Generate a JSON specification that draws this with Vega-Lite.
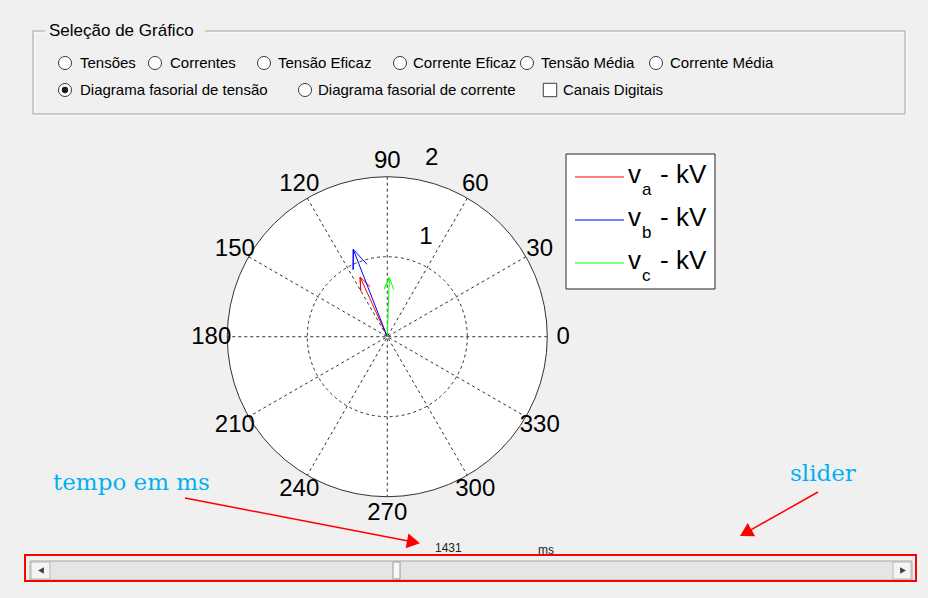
{
  "$schema": "https://vega.github.io/schema/vega-lite/v6.json",
  "width": 928,
  "height": 598,
  "autosize": {"type": "fit", "contains": "padding"},
  "padding": 0,
  "background": "#f0f0f0",
  "config": {"view": {"stroke": null}, "axis": {"disable": true}},
  "datasets": {
    "frame": [{"x": 33, "y": 31, "x2": 905, "y2": 114}],
    "frameHi": [{"x": 34, "y": 32, "x2": 906, "y2": 115}],
    "titleBg": [{"x": 45, "y": 22, "x2": 205, "y2": 40}],
    "title": [{"x": 49, "y": 31, "t": "Seleção de Gráfico"}],
    "options": [
      {"t": "Tensões", "cx": 65, "tx": 80, "y": 63, "k": "radio"},
      {"t": "Correntes", "cx": 155, "tx": 170, "y": 63, "k": "radio"},
      {"t": "Tensão Eficaz", "cx": 264, "tx": 278, "y": 63, "k": "radio"},
      {"t": "Corrente Eficaz", "cx": 400, "tx": 413, "y": 63, "k": "radio"},
      {"t": "Tensão Média", "cx": 527, "tx": 541, "y": 63, "k": "radio"},
      {"t": "Corrente Média", "cx": 656, "tx": 670, "y": 63, "k": "radio"},
      {"t": "Diagrama fasorial de tensão", "cx": 65, "tx": 80, "y": 90, "k": "selected"},
      {"t": "Diagrama fasorial de corrente", "cx": 305, "tx": 318, "y": 90, "k": "radio"},
      {"t": "Canais Digitais", "cx": 550, "tx": 563, "y": 90, "k": "check"}
    ],
    "spokes": [
      {"x": 2, "y": 0, "x2": -2, "y2": 0},
      {"x": 1.7321, "y": 1, "x2": -1.7321, "y2": -1},
      {"x": 1, "y": 1.7321, "x2": -1, "y2": -1.7321},
      {"x": 0, "y": 2, "x2": 0, "y2": -2},
      {"x": -1, "y": 1.7321, "x2": 1, "y2": -1.7321},
      {"x": -1.7321, "y": 1, "x2": 1.7321, "y2": -1}
    ],
    "origin": [{"x": 0, "y": 0}],
    "angles": [
      {"t": "0", "x": 2.2, "y": 0},
      {"t": "30", "x": 1.9053, "y": 1.1},
      {"t": "60", "x": 1.1, "y": 1.9053},
      {"t": "90", "x": 0, "y": 2.2},
      {"t": "120", "x": -1.1, "y": 1.9053},
      {"t": "150", "x": -1.9053, "y": 1.1},
      {"t": "180", "x": -2.2, "y": 0},
      {"t": "210", "x": -1.9053, "y": -1.1},
      {"t": "240", "x": -1.1, "y": -1.9053},
      {"t": "270", "x": 0, "y": -2.2},
      {"t": "300", "x": 1.1, "y": -1.9053},
      {"t": "330", "x": 1.9053, "y": -1.1}
    ],
    "rlabels": [
      {"t": "1", "x": 0.484, "y": 1.246},
      {"t": "2", "x": 0.555, "y": 2.234}
    ],
    "phasors": [
      {"s": "va", "i": 0, "x": 0, "y": 0},
      {"s": "va", "i": 1, "x": -0.34, "y": 0.746},
      {"s": "va", "i": 2, "x": -0.332, "y": 0.57},
      {"s": "va", "i": 3, "x": -0.34, "y": 0.746},
      {"s": "va", "i": 4, "x": -0.212, "y": 0.624},
      {"s": "vb", "i": 0, "x": 0, "y": 0},
      {"s": "vb", "i": 1, "x": -0.425, "y": 1.09},
      {"s": "vb", "i": 2, "x": -0.427, "y": 0.838},
      {"s": "vb", "i": 3, "x": -0.425, "y": 1.09},
      {"s": "vb", "i": 4, "x": -0.253, "y": 0.906},
      {"s": "vc", "i": 0, "x": 0, "y": 0},
      {"s": "vc", "i": 1, "x": 0.026, "y": 0.74},
      {"s": "vc", "i": 2, "x": -0.039, "y": 0.594},
      {"s": "vc", "i": 3, "x": 0.026, "y": 0.74},
      {"s": "vc", "i": 4, "x": 0.08, "y": 0.59}
    ],
    "legendBox": [{"x": 566, "y": 154, "x2": 715, "y2": 289}],
    "legendRows": [
      {"s": "va", "sub": "a", "x": 575, "x2": 624, "y": 177, "ty": 183, "sy": 195},
      {"s": "vb", "sub": "b", "x": 575, "x2": 624, "y": 220, "ty": 226, "sy": 238},
      {"s": "vc", "sub": "c", "x": 575, "x2": 624, "y": 263, "ty": 269, "sy": 281}
    ],
    "trough": [{"x": 30, "y": 561, "x2": 912, "y2": 580}],
    "buttons": [
      {"x": 31, "y": 562, "x2": 50, "y2": 579},
      {"x": 893, "y": 562, "x2": 911, "y2": 579}
    ],
    "leftTri": [{"x": 41, "y": 570.5}],
    "rightTri": [{"x": 903, "y": 570.5}],
    "thumb": [{"x": 393, "y": 562, "x2": 400, "y2": 579}],
    "redBox": [{"x": 25, "y": 555, "x2": 916, "y2": 581}],
    "smallText": [
      {"t": "1431", "x": 435, "y": 551.5},
      {"t": "ms", "x": 538, "y": 554}
    ],
    "notes": [
      {"t": "tempo em ms", "x": 53, "y": 490},
      {"t": "slider", "x": 790, "y": 481}
    ],
    "arrow1": [{"x": 185, "y": 498, "x2": 413.5, "y2": 542.1}],
    "arrow2": [{"x": 818, "y": 492, "x2": 745.7, "y2": 532.8}]
  },
  "layer": [
    {
      "layer": [
        {
          "data": {"name": "frameHi"},
          "mark": {"type": "rect", "fill": "transparent", "stroke": "#ffffff", "strokeWidth": 1},
          "encoding": {
            "x": {"field": "x", "type": "quantitative", "scale": {"domain": [0, 928], "nice": false, "zero": false}, "axis": null},
            "y": {"field": "y", "type": "quantitative", "scale": {"domain": [0, 598], "nice": false, "zero": false, "reverse": true}, "axis": null},
            "x2": {"field": "x2"},
            "y2": {"field": "y2"}
          }
        },
        {
          "data": {"name": "frame"},
          "mark": {"type": "rect", "fill": "transparent", "stroke": "#a0a0a0", "strokeWidth": 1},
          "encoding": {
            "x": {"field": "x", "type": "quantitative", "scale": {"domain": [0, 928], "nice": false, "zero": false}, "axis": null},
            "y": {"field": "y", "type": "quantitative", "scale": {"domain": [0, 598], "nice": false, "zero": false, "reverse": true}, "axis": null},
            "x2": {"field": "x2"},
            "y2": {"field": "y2"}
          }
        },
        {
          "data": {"name": "titleBg"},
          "mark": {"type": "rect", "fill": "#f0f0f0", "strokeWidth": 0},
          "encoding": {
            "x": {"field": "x", "type": "quantitative", "scale": {"domain": [0, 928], "nice": false, "zero": false}, "axis": null},
            "y": {"field": "y", "type": "quantitative", "scale": {"domain": [0, 598], "nice": false, "zero": false, "reverse": true}, "axis": null},
            "x2": {"field": "x2"},
            "y2": {"field": "y2"}
          }
        },
        {
          "data": {"name": "title"},
          "mark": {"type": "text", "align": "left", "baseline": "middle", "font": "Liberation Sans", "fontSize": 17, "color": "#000000"},
          "encoding": {
            "x": {"field": "x", "type": "quantitative", "scale": {"domain": [0, 928], "nice": false, "zero": false}, "axis": null},
            "y": {"field": "y", "type": "quantitative", "scale": {"domain": [0, 598], "nice": false, "zero": false, "reverse": true}, "axis": null},
            "text": {"field": "t"}
          }
        },
        {
          "data": {"name": "options"},
          "transform": [{"filter": "datum.k !== 'check'"}],
          "mark": {"type": "point", "shape": "circle", "size": 170, "filled": true, "fill": "#ffffff", "stroke": "#3c3c3c", "strokeWidth": 1, "opacity": 1},
          "encoding": {
            "x": {"field": "cx", "type": "quantitative", "scale": {"domain": [0, 928], "nice": false, "zero": false}, "axis": null},
            "y": {"field": "y", "type": "quantitative", "scale": {"domain": [0, 598], "nice": false, "zero": false, "reverse": true}, "axis": null}
          }
        },
        {
          "data": {"name": "options"},
          "transform": [{"filter": "datum.k === 'selected'"}],
          "mark": {"type": "point", "shape": "circle", "size": 40, "filled": true, "fill": "#1a1a1a", "strokeWidth": 0, "opacity": 1},
          "encoding": {
            "x": {"field": "cx", "type": "quantitative", "scale": {"domain": [0, 928], "nice": false, "zero": false}, "axis": null},
            "y": {"field": "y", "type": "quantitative", "scale": {"domain": [0, 598], "nice": false, "zero": false, "reverse": true}, "axis": null}
          }
        },
        {
          "data": {"name": "options"},
          "transform": [{"filter": "datum.k === 'check'"}],
          "mark": {"type": "point", "shape": "square", "size": 180, "filled": true, "fill": "#ffffff", "stroke": "#3c3c3c", "strokeWidth": 1, "opacity": 1},
          "encoding": {
            "x": {"field": "cx", "type": "quantitative", "scale": {"domain": [0, 928], "nice": false, "zero": false}, "axis": null},
            "y": {"field": "y", "type": "quantitative", "scale": {"domain": [0, 598], "nice": false, "zero": false, "reverse": true}, "axis": null}
          }
        },
        {
          "data": {"name": "options"},
          "mark": {"type": "text", "align": "left", "baseline": "middle", "font": "Liberation Sans", "fontSize": 15, "color": "#000000"},
          "encoding": {
            "x": {"field": "tx", "type": "quantitative", "scale": {"domain": [0, 928], "nice": false, "zero": false}, "axis": null},
            "y": {"field": "y", "type": "quantitative", "scale": {"domain": [0, 598], "nice": false, "zero": false, "reverse": true}, "axis": null},
            "text": {"field": "t"}
          }
        },
        {
          "data": {"name": "legendBox"},
          "mark": {"type": "rect", "fill": "#ffffff", "stroke": "#262626", "strokeWidth": 1},
          "encoding": {
            "x": {"field": "x", "type": "quantitative", "scale": {"domain": [0, 928], "nice": false, "zero": false}, "axis": null},
            "y": {"field": "y", "type": "quantitative", "scale": {"domain": [0, 598], "nice": false, "zero": false, "reverse": true}, "axis": null},
            "x2": {"field": "x2"},
            "y2": {"field": "y2"}
          }
        },
        {
          "data": {"name": "legendRows"},
          "mark": {"type": "rule", "strokeWidth": 1},
          "encoding": {
            "x": {"field": "x", "type": "quantitative", "scale": {"domain": [0, 928], "nice": false, "zero": false}, "axis": null},
            "y": {"field": "y", "type": "quantitative", "scale": {"domain": [0, 598], "nice": false, "zero": false, "reverse": true}, "axis": null},
            "x2": {"field": "x2"},
            "color": {"field": "s", "type": "nominal", "scale": {"domain": ["va", "vb", "vc"], "range": ["#ff0000", "#0000ff", "#00ff00"]}, "legend": null}
          }
        },
        {
          "data": {"name": "legendRows"},
          "mark": {"type": "text", "align": "left", "baseline": "alphabetic", "font": "Liberation Sans", "fontSize": 26, "color": "#000000", "text": "v"},
          "encoding": {
            "x": {"datum": 628, "type": "quantitative", "scale": {"domain": [0, 928], "nice": false, "zero": false}, "axis": null},
            "y": {"field": "ty", "type": "quantitative", "scale": {"domain": [0, 598], "nice": false, "zero": false, "reverse": true}, "axis": null}
          }
        },
        {
          "data": {"name": "legendRows"},
          "mark": {"type": "text", "align": "left", "baseline": "alphabetic", "font": "Liberation Sans", "fontSize": 17, "color": "#000000"},
          "encoding": {
            "x": {"datum": 642, "type": "quantitative", "scale": {"domain": [0, 928], "nice": false, "zero": false}, "axis": null},
            "y": {"field": "sy", "type": "quantitative", "scale": {"domain": [0, 598], "nice": false, "zero": false, "reverse": true}, "axis": null},
            "text": {"field": "sub"}
          }
        },
        {
          "data": {"name": "legendRows"},
          "mark": {"type": "text", "align": "left", "baseline": "alphabetic", "font": "Liberation Sans", "fontSize": 26, "color": "#000000", "text": "- kV"},
          "encoding": {
            "x": {"datum": 660, "type": "quantitative", "scale": {"domain": [0, 928], "nice": false, "zero": false}, "axis": null},
            "y": {"field": "ty", "type": "quantitative", "scale": {"domain": [0, 598], "nice": false, "zero": false, "reverse": true}, "axis": null}
          }
        },
        {
          "data": {"name": "trough"},
          "mark": {"type": "rect", "fill": "#e5e5e5", "stroke": "#a8a8a8", "strokeWidth": 1},
          "encoding": {
            "x": {"field": "x", "type": "quantitative", "scale": {"domain": [0, 928], "nice": false, "zero": false}, "axis": null},
            "y": {"field": "y", "type": "quantitative", "scale": {"domain": [0, 598], "nice": false, "zero": false, "reverse": true}, "axis": null},
            "x2": {"field": "x2"},
            "y2": {"field": "y2"}
          }
        },
        {
          "data": {"name": "buttons"},
          "mark": {"type": "rect", "fill": "#f4f4f4", "stroke": "#b8b8b8", "strokeWidth": 1},
          "encoding": {
            "x": {"field": "x", "type": "quantitative", "scale": {"domain": [0, 928], "nice": false, "zero": false}, "axis": null},
            "y": {"field": "y", "type": "quantitative", "scale": {"domain": [0, 598], "nice": false, "zero": false, "reverse": true}, "axis": null},
            "x2": {"field": "x2"},
            "y2": {"field": "y2"}
          }
        },
        {
          "data": {"name": "leftTri"},
          "mark": {"type": "point", "shape": "triangle-left", "size": 45, "filled": true, "fill": "#404040", "strokeWidth": 0, "opacity": 1},
          "encoding": {
            "x": {"field": "x", "type": "quantitative", "scale": {"domain": [0, 928], "nice": false, "zero": false}, "axis": null},
            "y": {"field": "y", "type": "quantitative", "scale": {"domain": [0, 598], "nice": false, "zero": false, "reverse": true}, "axis": null}
          }
        },
        {
          "data": {"name": "rightTri"},
          "mark": {"type": "point", "shape": "triangle-right", "size": 45, "filled": true, "fill": "#404040", "strokeWidth": 0, "opacity": 1},
          "encoding": {
            "x": {"field": "x", "type": "quantitative", "scale": {"domain": [0, 928], "nice": false, "zero": false}, "axis": null},
            "y": {"field": "y", "type": "quantitative", "scale": {"domain": [0, 598], "nice": false, "zero": false, "reverse": true}, "axis": null}
          }
        },
        {
          "data": {"name": "thumb"},
          "mark": {"type": "rect", "fill": "#f8f8f8", "stroke": "#9a9a9a", "strokeWidth": 1},
          "encoding": {
            "x": {"field": "x", "type": "quantitative", "scale": {"domain": [0, 928], "nice": false, "zero": false}, "axis": null},
            "y": {"field": "y", "type": "quantitative", "scale": {"domain": [0, 598], "nice": false, "zero": false, "reverse": true}, "axis": null},
            "x2": {"field": "x2"},
            "y2": {"field": "y2"}
          }
        },
        {
          "data": {"name": "redBox"},
          "mark": {"type": "rect", "fill": "transparent", "stroke": "#ff0000", "strokeWidth": 2},
          "encoding": {
            "x": {"field": "x", "type": "quantitative", "scale": {"domain": [0, 928], "nice": false, "zero": false}, "axis": null},
            "y": {"field": "y", "type": "quantitative", "scale": {"domain": [0, 598], "nice": false, "zero": false, "reverse": true}, "axis": null},
            "x2": {"field": "x2"},
            "y2": {"field": "y2"}
          }
        },
        {
          "data": {"name": "smallText"},
          "mark": {"type": "text", "align": "left", "baseline": "alphabetic", "font": "Liberation Sans", "fontSize": 12, "color": "#222222"},
          "encoding": {
            "x": {"field": "x", "type": "quantitative", "scale": {"domain": [0, 928], "nice": false, "zero": false}, "axis": null},
            "y": {"field": "y", "type": "quantitative", "scale": {"domain": [0, 598], "nice": false, "zero": false, "reverse": true}, "axis": null},
            "text": {"field": "t"}
          }
        },
        {
          "data": {"name": "notes"},
          "mark": {"type": "text", "align": "left", "baseline": "alphabetic", "font": "DejaVu Serif", "fontSize": 23, "color": "#00b0f0"},
          "encoding": {
            "x": {"field": "x", "type": "quantitative", "scale": {"domain": [0, 928], "nice": false, "zero": false}, "axis": null},
            "y": {"field": "y", "type": "quantitative", "scale": {"domain": [0, 598], "nice": false, "zero": false, "reverse": true}, "axis": null},
            "text": {"field": "t"}
          }
        },
        {
          "data": {"name": "arrow1"},
          "mark": {"type": "rule", "color": "#ff0000", "strokeWidth": 1.5},
          "encoding": {
            "x": {"field": "x", "type": "quantitative", "scale": {"domain": [0, 928], "nice": false, "zero": false}, "axis": null},
            "y": {"field": "y", "type": "quantitative", "scale": {"domain": [0, 598], "nice": false, "zero": false, "reverse": true}, "axis": null},
            "x2": {"field": "x2"},
            "y2": {"field": "y2"}
          }
        },
        {
          "data": {"name": "arrow1"},
          "mark": {"type": "point", "shape": "triangle-right", "size": 230, "angle": 10.8, "filled": true, "fill": "#ff0000", "strokeWidth": 0, "opacity": 1},
          "encoding": {
            "x": {"field": "x2", "type": "quantitative", "scale": {"domain": [0, 928], "nice": false, "zero": false}, "axis": null},
            "y": {"field": "y2", "type": "quantitative", "scale": {"domain": [0, 598], "nice": false, "zero": false, "reverse": true}, "axis": null}
          }
        },
        {
          "data": {"name": "arrow2"},
          "mark": {"type": "rule", "color": "#ff0000", "strokeWidth": 1.5},
          "encoding": {
            "x": {"field": "x", "type": "quantitative", "scale": {"domain": [0, 928], "nice": false, "zero": false}, "axis": null},
            "y": {"field": "y", "type": "quantitative", "scale": {"domain": [0, 598], "nice": false, "zero": false, "reverse": true}, "axis": null},
            "x2": {"field": "x2"},
            "y2": {"field": "y2"}
          }
        },
        {
          "data": {"name": "arrow2"},
          "mark": {"type": "point", "shape": "triangle-right", "size": 230, "angle": 150.6, "filled": true, "fill": "#ff0000", "strokeWidth": 0, "opacity": 1},
          "encoding": {
            "x": {"field": "x2", "type": "quantitative", "scale": {"domain": [0, 928], "nice": false, "zero": false}, "axis": null},
            "y": {"field": "y2", "type": "quantitative", "scale": {"domain": [0, 598], "nice": false, "zero": false, "reverse": true}, "axis": null}
          }
        }
      ]
    },
    {
      "layer": [
        {
          "data": {"name": "origin"},
          "mark": {"type": "point", "shape": "circle", "size": 102400, "filled": true, "fill": "#ffffff", "stroke": "#333333", "strokeWidth": 1, "opacity": 1},
          "encoding": {
            "x": {"field": "x", "type": "quantitative", "scale": {"domain": [-4.841, 6.759], "nice": false, "zero": false}, "axis": null},
            "y": {"field": "y", "type": "quantitative", "scale": {"domain": [-3.266, 4.209], "nice": false, "zero": false}, "axis": null}
          }
        },
        {
          "data": {"name": "origin"},
          "mark": {"type": "point", "shape": "circle", "size": 25600, "filled": false, "stroke": "#333333", "strokeWidth": 1, "strokeDash": [3, 3], "opacity": 1},
          "encoding": {
            "x": {"field": "x", "type": "quantitative", "scale": {"domain": [-4.841, 6.759], "nice": false, "zero": false}, "axis": null},
            "y": {"field": "y", "type": "quantitative", "scale": {"domain": [-3.266, 4.209], "nice": false, "zero": false}, "axis": null}
          }
        },
        {
          "data": {"name": "spokes"},
          "mark": {"type": "rule", "color": "#333333", "strokeWidth": 1, "strokeDash": [3, 3]},
          "encoding": {
            "x": {"field": "x", "type": "quantitative", "scale": {"domain": [-4.841, 6.759], "nice": false, "zero": false}, "axis": null},
            "y": {"field": "y", "type": "quantitative", "scale": {"domain": [-3.266, 4.209], "nice": false, "zero": false}, "axis": null},
            "x2": {"field": "x2"},
            "y2": {"field": "y2"}
          }
        },
        {
          "data": {"name": "angles"},
          "mark": {"type": "text", "align": "center", "baseline": "middle", "font": "Liberation Sans", "fontSize": 24, "color": "#000000"},
          "encoding": {
            "x": {"field": "x", "type": "quantitative", "scale": {"domain": [-4.841, 6.759], "nice": false, "zero": false}, "axis": null},
            "y": {"field": "y", "type": "quantitative", "scale": {"domain": [-3.266, 4.209], "nice": false, "zero": false}, "axis": null},
            "text": {"field": "t"}
          }
        },
        {
          "data": {"name": "rlabels"},
          "mark": {"type": "text", "align": "center", "baseline": "middle", "font": "Liberation Sans", "fontSize": 24, "color": "#000000"},
          "encoding": {
            "x": {"field": "x", "type": "quantitative", "scale": {"domain": [-4.841, 6.759], "nice": false, "zero": false}, "axis": null},
            "y": {"field": "y", "type": "quantitative", "scale": {"domain": [-3.266, 4.209], "nice": false, "zero": false}, "axis": null},
            "text": {"field": "t"}
          }
        },
        {
          "data": {"name": "phasors"},
          "mark": {"type": "line", "strokeWidth": 1, "strokeJoin": "miter"},
          "encoding": {
            "x": {"field": "x", "type": "quantitative", "scale": {"domain": [-4.841, 6.759], "nice": false, "zero": false}, "axis": null},
            "y": {"field": "y", "type": "quantitative", "scale": {"domain": [-3.266, 4.209], "nice": false, "zero": false}, "axis": null},
            "order": {"field": "i", "type": "quantitative"},
            "color": {"field": "s", "type": "nominal", "scale": {"domain": ["va", "vb", "vc"], "range": ["#ff0000", "#0000ff", "#00ff00"]}, "legend": null}
          }
        }
      ]
    }
  ],
  "resolve": {"scale": {"x": "independent", "y": "independent"}}
}
